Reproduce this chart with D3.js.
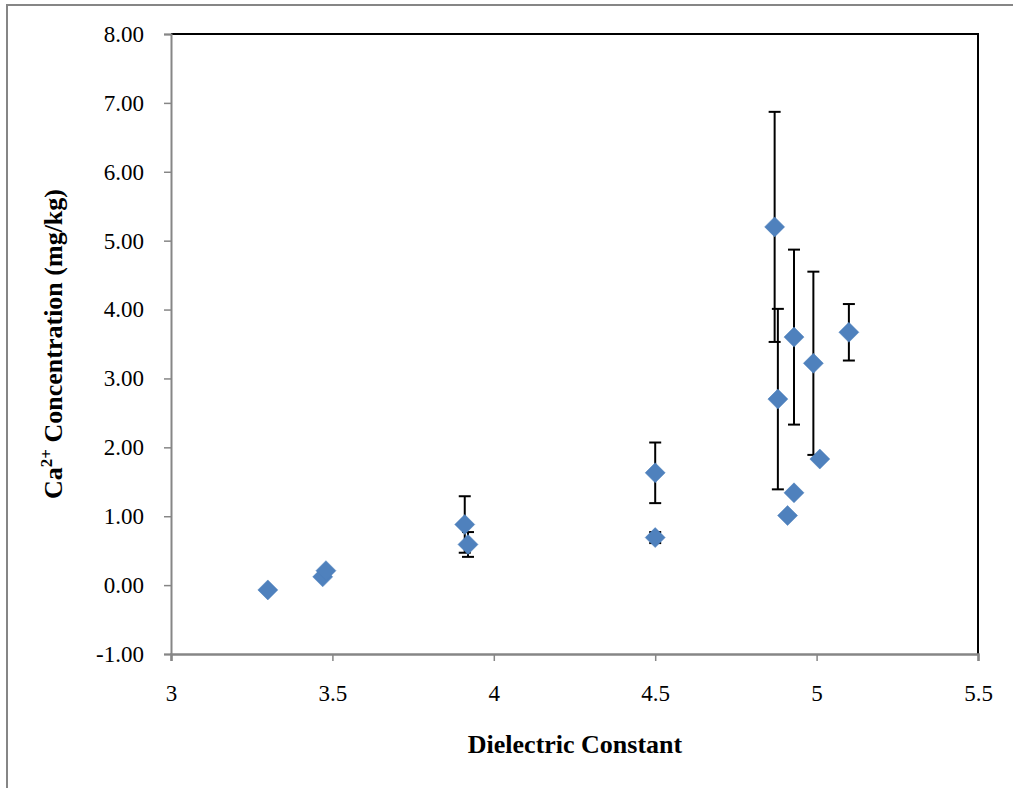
<!DOCTYPE html>
<html>
<head>
<meta charset="utf-8">
<script src="https://cdn.jsdelivr.net/npm/d3@7"></script>
<style>
html,body{margin:0;padding:0;background:#fff;}
svg{display:block;}
</style>
</head>
<body>
<svg id="chart" width="1013" height="788"></svg>
<script>
// Data
const dielectric = [3.30, 3.47, 3.48, 3.91, 3.92, 4.50, 4.50, 4.87, 4.88, 4.91, 4.93, 4.93, 4.99, 5.01, 5.10];
const calcium    = [-0.07, 0.12, 0.21, 0.88, 0.59, 1.63, 0.69, 5.20, 2.70, 1.01, 3.60, 1.34, 3.22, 1.83, 3.67];
const errorBar   = [0, 0, 0, 0.41, 0.18, 0.44, 0.08, 1.67, 1.31, 0, 1.27, 0, 1.33, 0, 0.41];
const xTicks = [3, 3.5, 4, 4.5, 5, 5.5];
const yTicks = [-1, 0, 1, 2, 3, 4, 5, 6, 7, 8];

(function () {
const svg = d3.select("#chart");
const pLeft = 171, pRight = 978, pTop = 34, pBottom = 654;

// outer frame
svg.append("rect").attr("x", 7).attr("y", 5).attr("width", 1030).attr("height", 820)
  .attr("fill", "none").attr("stroke", "#868686").attr("stroke-width", 2);

const x = d3.scaleLinear().domain([3, 5.5]).range([pLeft, pRight]);
const y = d3.scaleLinear().domain([-1, 8]).range([pBottom, pTop]);

// plot border (top/right black)
svg.append("path")
  .attr("d", `M${pLeft},${pTop}H${pRight}V${pBottom}`)
  .attr("fill", "none").attr("stroke", "#000").attr("stroke-width", 2);

const font = "'Liberation Serif','Times New Roman',serif";

// Y axis
const yAxis = d3.axisLeft(y).tickValues(yTicks).tickFormat(d3.format(".2f")).tickSizeOuter(0).tickSize(7).tickPadding(20);
const gy = svg.append("g").attr("transform", `translate(${pLeft},0)`).call(yAxis);
gy.select(".domain").attr("stroke", "#868686").attr("stroke-width", 2);
gy.selectAll(".tick line").attr("stroke", "#868686").attr("stroke-width", 1.5);
gy.selectAll(".tick text").attr("font-family", font).attr("font-size", 23).attr("fill", "#000")
  .text(d => d3.format(".2f")(d).replace("\u2212", "-"));

// X axis
const xAxis = d3.axisBottom(x).tickValues(xTicks).tickFormat(d => String(d)).tickSizeOuter(0).tickSize(7).tickPadding(24);
const gx = svg.append("g").attr("transform", `translate(0,${pBottom})`).call(xAxis);
gx.select(".domain").attr("stroke", "#868686").attr("stroke-width", 2.5);
gx.selectAll(".tick line").attr("stroke", "#868686").attr("stroke-width", 1.5);
gx.selectAll(".tick text").attr("font-family", font).attr("font-size", 23).attr("fill", "#000");

// Error bars
const pts = dielectric.map((d, i) => ({x: d, y: calcium[i], e: errorBar[i]}));
const eb = svg.append("g").attr("stroke", "#000").attr("stroke-width", 2);
pts.filter(p => p.e > 0).forEach(p => {
  const cx = x(p.x), y1 = y(p.y + p.e), y2 = y(p.y - p.e);
  eb.append("line").attr("x1", cx).attr("x2", cx).attr("y1", y1).attr("y2", y2);
  eb.append("line").attr("x1", cx - 6).attr("x2", cx + 6).attr("y1", y1).attr("y2", y1);
  eb.append("line").attr("x1", cx - 6).attr("x2", cx + 6).attr("y1", y2).attr("y2", y2);
});

// Markers
svg.append("g").selectAll("path").data(pts).join("path")
  .attr("d", d => { const cx = x(d.x), cy = y(d.y), r = 10; return `M${cx},${cy-r}L${cx+r},${cy}L${cx},${cy+r}L${cx-r},${cy}Z`; })
  .attr("fill", "#4F81BD").attr("stroke", "#4A7EBB").attr("stroke-width", 0.5);

// Axis titles
svg.append("text").attr("x", 575).attr("y", 753)
  .attr("text-anchor", "middle").attr("font-family", font).attr("font-size", 26).attr("font-weight", "bold")
  .text("Dielectric Constant");

const yt = svg.append("text").attr("transform", `translate(62,${(pTop + pBottom) / 2}) rotate(-90)`)
  .attr("text-anchor", "middle").attr("font-family", font).attr("font-size", 26).attr("font-weight", "bold");
yt.append("tspan").text("Ca");
yt.append("tspan").attr("font-size", 17).attr("dy", -10).text("2+");
yt.append("tspan").attr("dy", 10).text(" Concentration (mg/kg)");
})();
</script>
</body>
</html>
